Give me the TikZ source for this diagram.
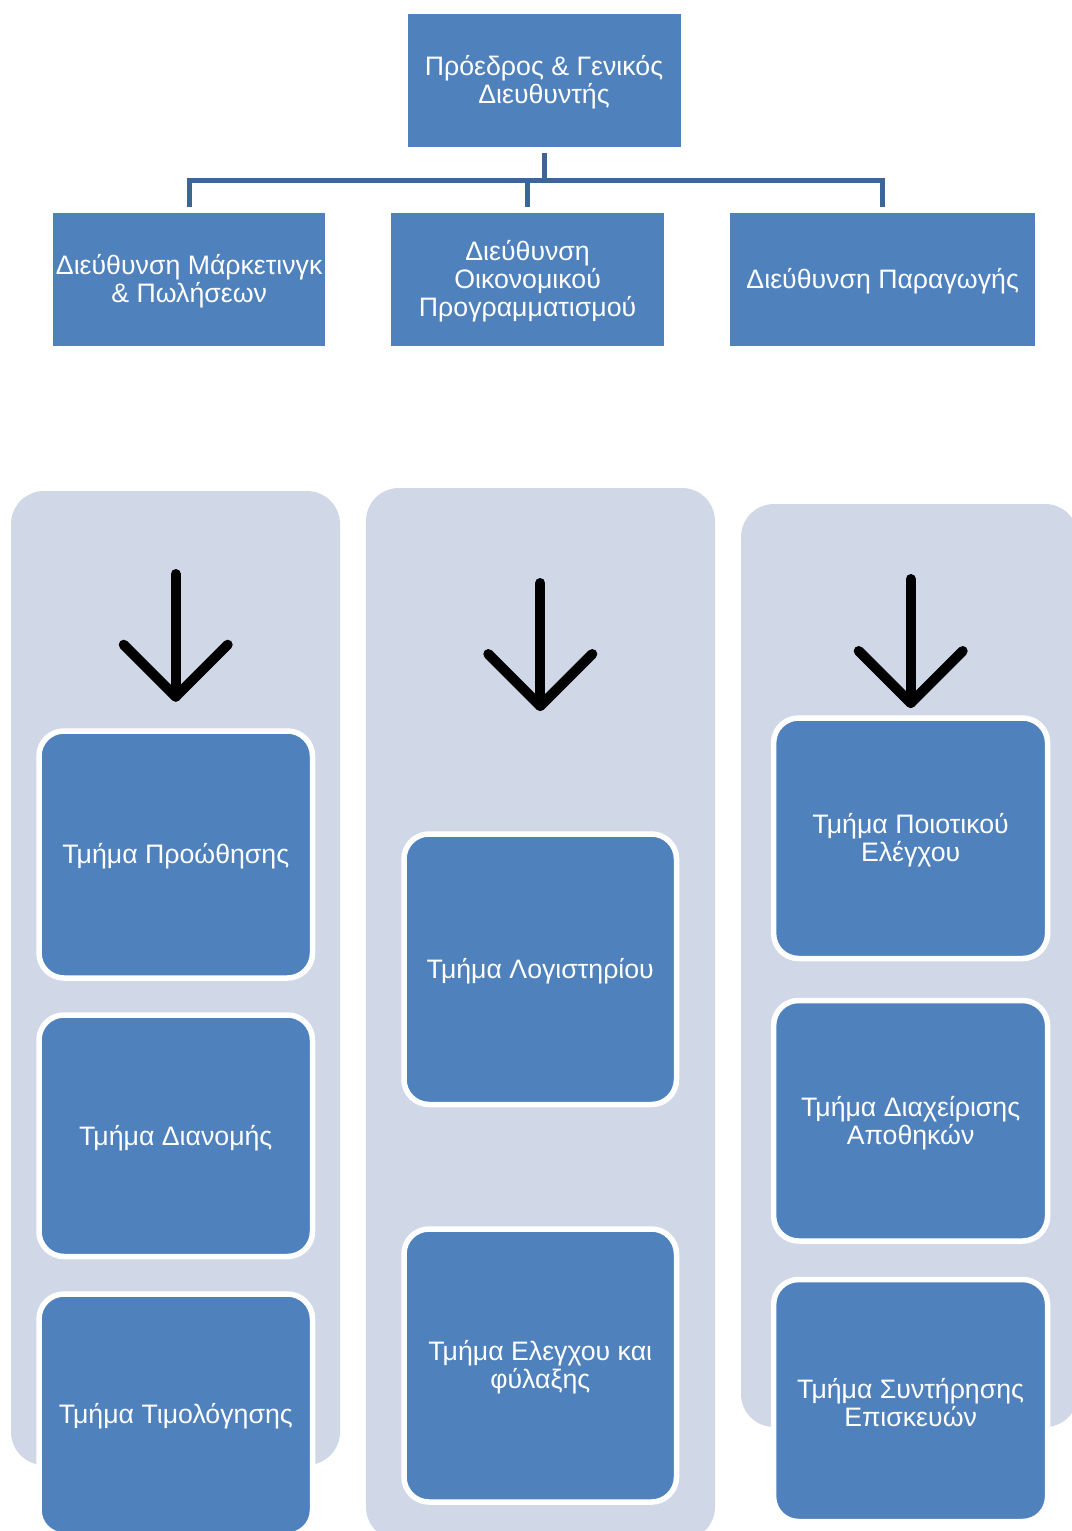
\documentclass[tikz,border=0pt]{standalone}
\usepackage{fontspec}
\setmainfont{Liberation Sans}
\definecolor{boxblue}{HTML}{4F81BD}
\definecolor{panelgray}{HTML}{D0D8E8}
\definecolor{linkblue}{HTML}{3C6696}
\begin{document}
\begin{tikzpicture}[x=1pt,y=-1pt,
  txt/.style={text=white, align=center, font=\fontsize{26.7}{28}\selectfont, inner sep=0pt},
  boxtext/.style={label={[txt, yshift=-2pt]center:{#1}}},
  headbox/.style={rectangle, fill=boxblue, draw=white, line width=1pt, inner sep=0pt},
  unitbox/.style={rectangle, rounded corners=25pt, fill=boxblue, draw=white, line width=5.5pt, inner sep=0pt},
  panel/.style={rectangle, rounded corners=33pt, fill=panelgray, inner sep=0pt},
  link/.style={draw=linkblue, line width=5pt, line join=miter},
  downarr/.style={draw=black, line width=10pt, line cap=round, line join=round}
]
\useasboundingbox (0,0) rectangle (1071,1531);
\fill[white] (0,0) rectangle (1071,1531);

% top level
\node[headbox, minimum width=274pt, minimum height=134pt, boxtext={Πρόεδρος \& Γενικός\\Διευθυντής}] (top) at (544,80.5) {};
\node[headbox, minimum width=273pt, minimum height=134pt, boxtext={Διεύθυνση Μάρκετινγκ\\\& Πωλήσεων}] (mk) at (189.2,279.5) {};
\node[headbox, minimum width=274pt, minimum height=134pt, boxtext={Διεύθυνση\\Οικονομικού\\Προγραμματισμού}] (fin) at (527.6,279.5) {};
\node[headbox, minimum width=306pt, minimum height=134pt, boxtext={Διεύθυνση Παραγωγής}] (prod) at (882.7,279.5) {};

\coordinate (j) at (544,180);
\draw[link, shorten <=5pt] (top.south) -- (j);
\draw[link, shorten <=5pt, shorten >=5pt] (mk.north) -- (mk.north |- j) -- (prod.north |- j) -- (prod.north);
\draw[link, shorten >=5pt] (fin.north |- j) -- (fin.north);

% panels
\node[panel, minimum width=329pt, minimum height=974pt] (p1) at (175.5,978) {};
\node[panel, minimum width=349pt, minimum height=1052pt] (p2) at (540.5,1014) {};
\node[panel, minimum width=337pt, minimum height=923pt] (p3) at (909.5,965.5) {};

% arrows
\coordinate (a1t) at (175.7,574);
\coordinate (a1p) at (175.7,696.7);
\coordinate (a1l) at (123.7,644.7);
\coordinate (a1r) at (227.7,644.7);
\draw[downarr] (a1t) -- (a1p);
\draw[downarr] (a1l) -- (a1p) -- (a1r);

\coordinate (a2t) at (540.3,583);
\coordinate (a2p) at (540.3,706);
\coordinate (a2l) at (488.3,654);
\coordinate (a2r) at (592.3,654);
\draw[downarr] (a2t) -- (a2p);
\draw[downarr] (a2l) -- (a2p) -- (a2r);

\coordinate (a3t) at (910.7,579);
\coordinate (a3p) at (910.7,703);
\coordinate (a3l) at (858.7,651);
\coordinate (a3r) at (962.7,651);
\draw[downarr] (a3t) -- (a3p);
\draw[downarr] (a3l) -- (a3p) -- (a3r);

% units column 1
\node[unitbox, minimum width=273.5pt, minimum height=247pt, boxtext={Τμήμα Προώθησης}] (b1) at (175.75,854.5) {};
\node[unitbox, minimum width=273.5pt, minimum height=241.5pt, boxtext={Τμήμα Διανομής}] (b2) at (175.75,1135.75) {};
\node[unitbox, minimum width=273.5pt, minimum height=241pt, boxtext={Τμήμα Τιμολόγησης}] (b3) at (175.75,1414.5) {};

% units column 2
\node[unitbox, minimum width=272.5pt, minimum height=270.5pt, boxtext={Τμήμα Λογιστηρίου}] (c1) at (540.25,969.25) {};
\node[unitbox, minimum width=272.5pt, minimum height=273pt, boxtext={Τμήμα Ελεγχου και\\φύλαξης}] (c2) at (540.25,1365.5) {};

% units column 3
\node[unitbox, minimum width=274pt, minimum height=240.5pt, boxtext={Τμήμα Ποιοτικού\\Ελέγχου}] (d1) at (910.6,838.25) {};
\node[unitbox, minimum width=274pt, minimum height=240.5pt, boxtext={Τμήμα Διαχείρισης\\Αποθηκών}] (d2) at (910.6,1120.75) {};
\node[unitbox, minimum width=274pt, minimum height=242pt, boxtext={Τμήμα Συντήρησης\\Επισκευών}] (d3) at (910.6,1400.5) {};
\end{tikzpicture}
\end{document}
